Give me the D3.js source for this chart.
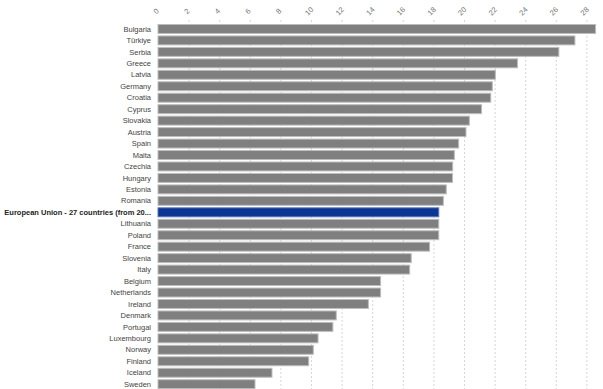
<!DOCTYPE html>
<html>
<head>
<meta charset="utf-8">
<script src="https://cdn.jsdelivr.net/npm/d3@7"></script>
<style>
  body { margin: 0; background: #fff; }
  svg { font-family: Arial, "Liberation Sans", sans-serif; }
</style>
</head>
<body>
<div id="chart"></div>
<script>
var countries = ["Bulgaria", "Türkiye", "Serbia", "Greece", "Latvia", "Germany", "Croatia", "Cyprus",
  "Slovakia", "Austria", "Spain", "Malta", "Czechia", "Hungary", "Estonia", "Romania",
  "European Union - 27 countries (from 20...", "Lithuania", "Poland", "France", "Slovenia", "Italy",
  "Belgium", "Netherlands", "Ireland", "Denmark", "Portugal", "Luxembourg", "Norway", "Finland",
  "Iceland", "Sweden"];
var values = [28.6, 27.25, 26.2, 23.5, 22.05, 21.85, 21.75, 21.15, 20.35, 20.13, 19.65, 19.37, 19.26,
  19.25, 18.84, 18.65, 18.35, 18.35, 18.35, 17.75, 16.55, 16.45, 14.55, 14.55, 13.75, 11.65, 11.43,
  10.46, 10.15, 9.85, 7.45, 6.34];
var highlight = "European Union - 27 countries (from 20...";
var tickValues = [0, 2, 4, 6, 8, 10, 12, 14, 16, 18, 20, 22, 24, 26, 28];

var width = 603, height = 389;
var margin = {top: 24.5, left: 158};

var svg = d3.select("#chart").append("svg").attr("width", width).attr("height", height);

var x = d3.scaleLinear().domain([0, 28]).range([margin.left, margin.left + 428.4]);
var y = d3.scaleBand().domain(countries).range([margin.top, margin.top + countries.length * 11.38]).paddingInner(0.22).paddingOuter(0);

// grid lines
svg.append("g").selectAll("line.grid").data(tickValues.slice(1)).enter().append("line")
  .attr("class", "grid")
  .attr("x1", function(d) { return x(d) + 0.5; }).attr("x2", function(d) { return x(d) + 0.5; })
  .attr("y1", 20).attr("y2", height)
  .style("stroke", "#d6d6d6").style("stroke-dasharray", "2,2").style("stroke-width", 1);

// top axis labels, rotated
svg.append("g").selectAll("text.tick").data(tickValues).enter().append("text")
  .attr("class", "tick")
  .attr("transform", function(d) { return "translate(" + x(d) + ",13) rotate(-45)"; })
  .attr("text-anchor", "middle")
  .style("font-size", "7.5px").style("fill", "#777")
  .text(function(d) { return d; });

// bars
svg.append("g").selectAll("rect.bar").data(countries).enter().append("rect")
  .attr("class", "bar")
  .attr("x", x(0))
  .attr("y", function(d) { return y(d); })
  .attr("width", function(d, i) { return x(values[i]) - x(0); })
  .attr("height", y.bandwidth())
  .style("fill", function(d) { return d == highlight ? "#0b3694" : "#7f7f7f"; })
  .style("stroke", function(d) { return d == highlight ? "#5a74b8" : "#bdbdbd"; })
  .style("stroke-width", 1);

// category labels
svg.append("g").selectAll("text.cat").data(countries).enter().append("text")
  .attr("class", "cat")
  .attr("x", margin.left - 7)
  .attr("y", function(d) { return y(d) + y.bandwidth() / 2; })
  .attr("dy", "0.35em")
  .attr("text-anchor", "end")
  .style("font-size", "7.5px")
  .style("font-weight", function(d) { return d == highlight ? "bold" : "normal"; })
  .style("fill", function(d) { return d == highlight ? "#222" : "#444"; })
  .text(function(d) { return d; });
</script>
</body>
</html>
